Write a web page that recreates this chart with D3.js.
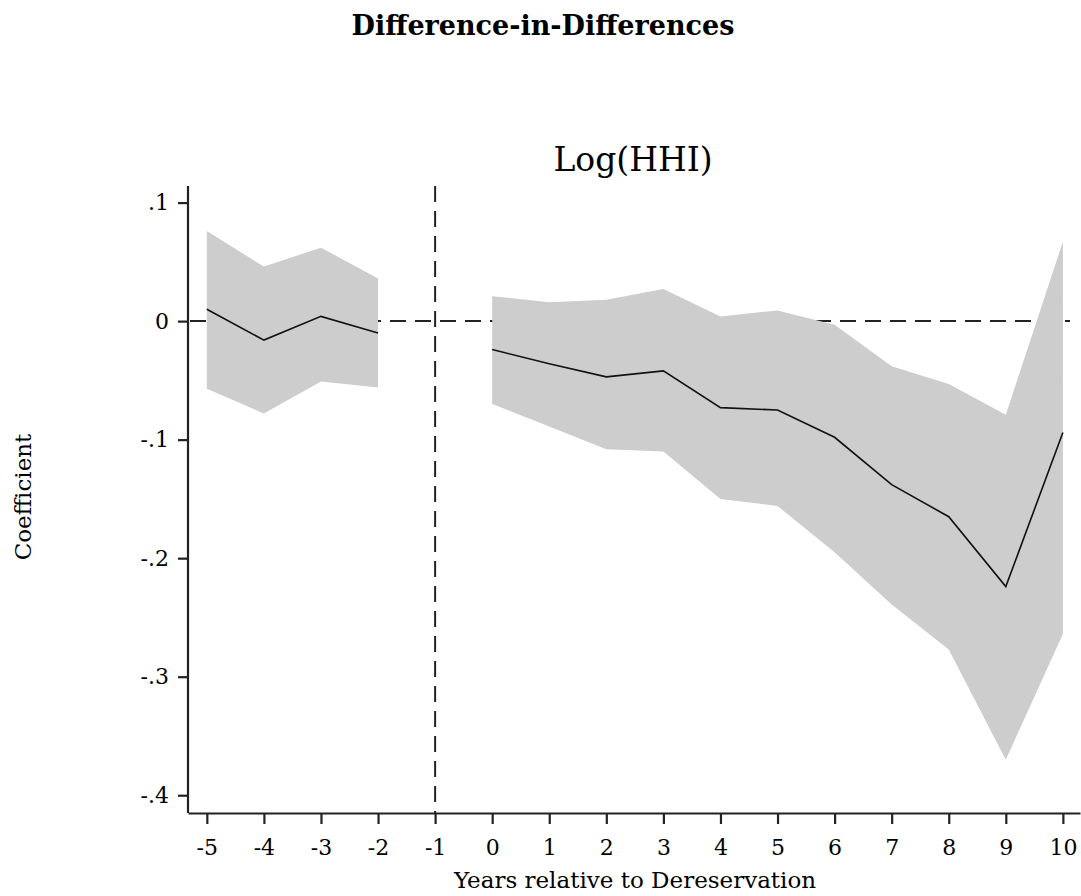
<!DOCTYPE html>
<html>
<head>
<meta charset="utf-8">
<script src="https://cdn.jsdelivr.net/npm/d3@7"></script>
<style>
  body { margin: 0; background: #fff; }
  svg text { font-family: "DejaVu Serif", "Liberation Serif", serif; fill: #000; }
</style>
</head>
<body>
<div id="container"></div>
<script>
/* CONSTANTS AND GLOBALS */
const width = 1081,
  height = 896,
  margin = { top: 186, bottom: 83, left: 188, right: 1 }

// years relative to dereservation (no estimate at -1, the omitted year)
const years = [-5, -4, -3, -2, 0, 1, 2, 3, 4, 5, 6, 7, 8, 9, 10]
const coef  = [0.010, -0.016, 0.004, -0.010, -0.024, -0.036, -0.047, -0.042, -0.073, -0.075, -0.098, -0.138, -0.165, -0.224, -0.094]
const upper = [0.076, 0.046, 0.062, 0.036, 0.021, 0.016, 0.018, 0.027, 0.004, 0.009, -0.003, -0.038, -0.053, -0.079, 0.067]
const lower = [-0.057, -0.078, -0.051, -0.056, -0.070, -0.089, -0.108, -0.110, -0.150, -0.156, -0.195, -0.239, -0.277, -0.370, -0.264]

const xTicks = [-5, -4, -3, -2, -1, 0, 1, 2, 3, 4, 5, 6, 7, 8, 9, 10]
const yTicks = [0.1, 0, -0.1, -0.2, -0.3, -0.4]

const data = years.map((y, i) => ({ year: y, coef: coef[i], hi: upper[i], lo: lower[i] }))

const xScale = d3.scaleLinear()
  .domain([-5.33, 10.3])
  .range([margin.left, width - margin.right])

const yScale = d3.scaleLinear()
  .domain([-0.415, 0.114])
  .range([height - margin.bottom, margin.top])

const svg = d3.select("#container")
  .append("svg")
  .attr("width", width)
  .attr("height", height)

// titles
svg.append("text")
  .attr("x", 543).attr("y", 35)
  .attr("text-anchor", "middle")
  .attr("font-size", 27).attr("font-weight", "bold")
  .text("Difference-in-Differences")

svg.append("text")
  .attr("x", 633).attr("y", 171)
  .attr("text-anchor", "middle")
  .attr("font-size", 33)
  .text("Log(HHI)")

// reference lines
svg.append("line")
  .attr("x1", xScale(-5.33)).attr("x2", 1070)
  .attr("y1", yScale(0)).attr("y2", yScale(0))
  .attr("stroke", "#222").attr("stroke-width", 2)
  .attr("stroke-dasharray", "16,9")
  .attr("stroke-dashoffset", -2)

svg.append("line")
  .attr("x1", xScale(-1)).attr("x2", xScale(-1))
  .attr("y1", yScale(0.114)).attr("y2", yScale(-0.415))
  .attr("stroke", "#222").attr("stroke-width", 2)
  .attr("stroke-dasharray", "16,9")

// confidence bands, one piece either side of the omitted year
const groups = [data.filter(d => d.year < -1), data.filter(d => d.year > -1)]

const area = d3.area()
  .x(d => xScale(d.year))
  .y0(d => yScale(d.lo))
  .y1(d => yScale(d.hi))

const line = d3.line()
  .x(d => xScale(d.year))
  .y(d => yScale(d.coef))

svg.selectAll("path.band")
  .data(groups)
  .join("path")
  .attr("class", "band")
  .attr("d", area)
  .attr("fill", "#cdcdcd")

svg.selectAll("path.coef")
  .data(groups)
  .join("path")
  .attr("class", "coef")
  .attr("d", line)
  .attr("fill", "none")
  .attr("stroke", "#111")
  .attr("stroke-width", 1.6)

// axes
const fmt = d => d === 0 ? "0" : d3.format(".1f")(d).replace("0.", ".").replace("−", "-")

const yAxis = svg.append("g")
  .attr("transform", `translate(${margin.left},0)`)
  .call(d3.axisLeft(yScale).tickValues(yTicks).tickFormat(fmt).tickSize(10).tickPadding(9).tickSizeOuter(0))

const xAxis = svg.append("g")
  .attr("transform", `translate(0,${height - margin.bottom})`)
  .call(d3.axisBottom(xScale).tickValues(xTicks).tickFormat(d => String(d)).tickSize(11).tickPadding(15).tickSizeOuter(0))

svg.selectAll(".domain").attr("stroke", "#222").attr("stroke-width", 2.2)
svg.selectAll(".tick line").attr("stroke", "#222").attr("stroke-width", 2.2)
svg.selectAll(".tick text")
  .attr("font-size", 22)
  .attr("fill", "#000")
yAxis.selectAll(".domain").attr("d", `M0,${yScale(0.114)}V${height - margin.bottom}`)

svg.append("text")
  .attr("x", 635).attr("y", 888)
  .attr("text-anchor", "middle")
  .attr("font-size", 23)
  .text("Years relative to Dereservation")

svg.append("text")
  .attr("transform", "translate(31,497) rotate(-90)")
  .attr("text-anchor", "middle")
  .attr("font-size", 23)
  .text("Coefficient")
</script>
</body>
</html>
